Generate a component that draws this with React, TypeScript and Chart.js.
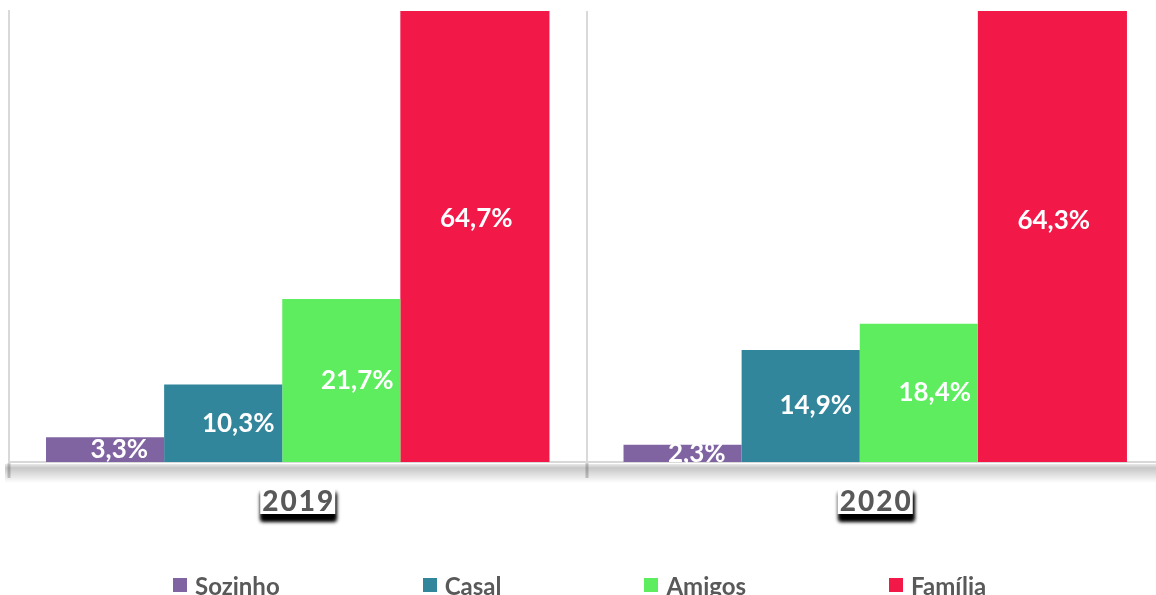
import React, { useEffect, useRef } from "react";
import { Chart, registerables } from "chart.js";
Chart.register(...registerables);

const categories = ["2019", "2020"];
const seriesNames = ["Sozinho", "Casal", "Amigos", "Família"];
const sozinho = [3.3, 2.3];
const casal = [10.3, 14.9];
const amigos = [21.7, 18.4];
const familia = [64.7, 64.3];
const seriesValues = [sozinho, casal, amigos, familia];
const seriesColors = ["#8064A2", "#31869B", "#5DED5F", "#F21848"];
const yMax = 60;

// per-series bar geometry (category / bar fractions) to mimic the original layout
const catPct = [0.8897, 1.033, 0.6031, 0.818];
const barPct = [0.9195, 0.7919, 1.356, 1.2627];
const labelSlot = 0.206;

const FONT = "Lato, 'DejaVu Sans', sans-serif";
const TEXT_GRAY = "#595959";

const fmt = (v: number) => v.toFixed(1).replace(".", ",") + "%";

const axisShadow = {
  id: "axisShadow",
  afterDraw(chart: any) {
    const { ctx, chartArea } = chart;
    const b = chartArea.bottom;
    ctx.save();
    const g = ctx.createLinearGradient(0, b + 1, 0, b + 21);
    g.addColorStop(0, "rgba(0,0,0,0.05)");
    g.addColorStop(0.25, "rgba(0,0,0,0.22)");
    g.addColorStop(1, "rgba(0,0,0,0)");
    ctx.fillStyle = g;
    ctx.fillRect(chartArea.left - 4, b + 2, chartArea.right - chartArea.left + 8, 19);
    ctx.restore();
  },
};

const categoryLabels = {
  id: "categoryLabels",
  afterDraw(chart: any) {
    const x = chart.scales.x;
    const ctx = chart.ctx;
    const spacing = 2;
    ctx.save();
    ctx.font = `900 28px ${FONT}`;
    categories.forEach((lab, i) => {
      const cx = x.getPixelForValue(i);
      const chars = lab.split("");
      const widths = chars.map((c) => ctx.measureText(c).width);
      const total = widths.reduce((a, b) => a + b, 0) + spacing * (chars.length - 1);
      const top = chart.chartArea.bottom + 24;
      const h = 28;
      ctx.save();
      ctx.shadowColor = "rgba(0,0,0,1)";
      ctx.shadowBlur = 4;
      ctx.shadowOffsetX = 1;
      ctx.shadowOffsetY = 7;
      ctx.fillStyle = "#ffffff";
      ctx.fillRect(cx - total / 2 - 2, top, total + 4, h);
      ctx.fillRect(cx - total / 2 - 2, top, total + 4, h);
      ctx.restore();
      ctx.fillStyle = TEXT_GRAY;
      ctx.textAlign = "left";
      ctx.textBaseline = "alphabetic";
      let px = cx - total / 2;
      chars.forEach((c, k) => {
        ctx.fillText(c, px, top + 25);
        px += widths[k] + spacing;
      });
    });
    ctx.restore();
  },
};

const dataLabels = {
  id: "dataLabels",
  afterDatasetsDraw(chart: any) {
    const ctx = chart.ctx;
    const x = chart.scales.x;
    const catW = x.width / categories.length;
    ctx.save();
    ctx.font = `bold 26px ${FONT}`;
    ctx.fillStyle = "#ffffff";
    ctx.textAlign = "center";
    ctx.textBaseline = "middle";
    chart.data.datasets.forEach((ds: any, di: number) => {
      const meta = chart.getDatasetMeta(di);
      meta.data.forEach((el: any, idx: number) => {
        const lx = x.getPixelForValue(idx) + (di - 1.5) * catW * labelSlot;
        const ly = (el.y + el.base) / 2;
        ctx.fillText(fmt(ds.data[idx]), lx, ly);
      });
    });
    ctx.restore();
  },
};

export default function App() {
  const ref = useRef<HTMLCanvasElement>(null);

  useEffect(() => {
    if (!ref.current) return;
    const chart = new Chart(ref.current, {
      type: "bar",
      data: {
        labels: categories,
        datasets: seriesValues.map((d, i) => ({
          label: seriesNames[i],
          data: d,
          backgroundColor: seriesColors[i],
          borderWidth: 0,
          categoryPercentage: catPct[i],
          barPercentage: barPct[i],
        })),
      },
      options: {
        responsive: false,
        animation: false,
        devicePixelRatio: 1,
        layout: { padding: { left: 9, top: 11, right: 6, bottom: 0 } },
        plugins: { legend: { display: false }, tooltip: { enabled: false } },
        scales: {
          x: {
            grid: {
              offset: true,
              color: "#D9D9D9",
              lineWidth: 2,
              drawTicks: true,
              tickLength: 16,
              tickColor: "rgba(140,140,140,0.45)",
              tickWidth: 3,
            },
            border: { color: "#D9D9D9", width: 2 },
            ticks: { display: false },
            afterFit: (s: any) => {
              s.height = 133;
            },
          },
          y: {
            min: 0,
            max: yMax,
            ticks: { display: false },
            grid: { display: false, drawTicks: false },
            border: { display: true, color: "#D9D9D9", width: 2 },
            afterFit: (s: any) => {
              s.width = 0;
            },
          },
        },
      } as any,
      plugins: [axisShadow, categoryLabels, dataLabels],
    });
    return () => chart.destroy();
  }, []);

  return (
    <div
      style={{
        position: "fixed",
        left: 0,
        top: 0,
        width: 1156,
        height: 595,
        overflow: "hidden",
        background: "#fff",
      }}
    >
      <canvas ref={ref} width={1170} height={595} style={{ display: "block" }} />
      <div
        style={{
          position: "absolute",
          left: 173,
          top: 572,
          height: 26,
          display: "flex",
          alignItems: "center",
          gap: 143,
          fontFamily: FONT,
          fontWeight: 700,
          fontSize: 24,
          color: TEXT_GRAY,
          whiteSpace: "nowrap",
        }}
      >
        {seriesNames.map((n, i) => (
          <div key={n} style={{ display: "flex", alignItems: "center" }}>
            <span
              style={{
                display: "inline-block",
                width: 14,
                height: 14,
                background: seriesColors[i],
                marginRight: 8,
              }}
            />
            <span>{n}</span>
          </div>
        ))}
      </div>
    </div>
  );
}
